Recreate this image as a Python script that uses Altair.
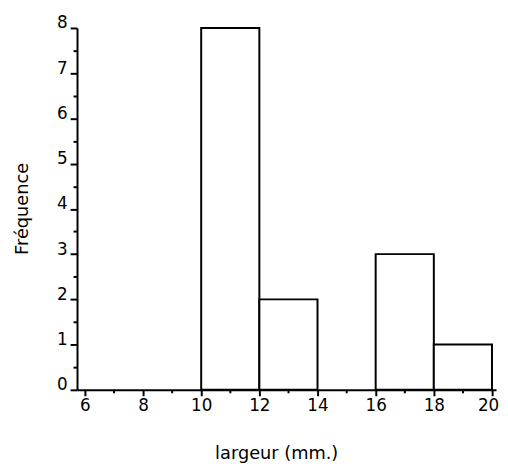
import altair as alt
import pandas as pd

bin_start = [10, 12, 14, 16, 18]
bin_end = [12, 14, 16, 18, 20]
freq = [8, 2, 0, 3, 1]

x_ticks = [6, 7, 8, 9, 10, 11, 12, 13, 14, 15, 16, 17, 18, 19, 20]
y_ticks = [0, 0.5, 1, 1.5, 2, 2.5, 3, 3.5, 4, 4.5, 5, 5.5, 6, 6.5, 7, 7.5, 8]

df = pd.DataFrame({"start": bin_start, "end": bin_end, "freq": freq})
df = df[df["freq"] > 0]

FONT = "DejaVu Sans"

x_axis = alt.Axis(
    values=x_ticks,
    labelExpr="datum.value % 2 === 0 ? format(datum.value, 'd') : ''",
    labelOverlap=False,
    labelOffset={"condition": {"test": "datum.value === 20", "value": -4}, "value": 0},
    tickSize={"condition": {"test": "datum.value % 2 === 0", "value": 6}, "value": 3},
    tickWidth=2,
    tickColor="black",
    domainColor="black",
    domainWidth=2,
    grid=False,
    labelFont=FONT,
    labelFontSize=17,
    labelColor="black",
    labelPadding=2,
    title="largeur (mm.)",
    titleFont=FONT,
    titleFontSize=18,
    titleFontWeight="normal",
    titleColor="black",
    titleX=202,
    titleY=65,
    titleBaseline="middle",
    titleAnchor="middle",
)

y_axis = alt.Axis(
    values=y_ticks,
    labelExpr="datum.value % 1 === 0 ? format(datum.value, 'd') : ''",
    labelOverlap=False,
    tickSize={"condition": {"test": "datum.value % 1 === 0", "value": 7}, "value": 4},
    tickWidth=2,
    tickColor="black",
    domainColor="black",
    domainWidth=2,
    grid=False,
    labelFont=FONT,
    labelFontSize=17,
    labelColor="black",
    labelPadding=3,
    labelOffset=-5,
    title="Fréquence",
    titleFont=FONT,
    titleFontSize=18,
    titleFontWeight="normal",
    titleColor="black",
    titleX=-55,
    titleY=183,
    titleBaseline="middle",
    titleAnchor="middle",
    titleAngle=270,
)

chart = (
    alt.Chart(df)
    .mark_rect(fill="white", stroke="black", strokeWidth=2)
    .encode(
        x=alt.X("start:Q", scale=alt.Scale(domain=[5.73, 20.14], nice=False, zero=False), axis=x_axis),
        x2="end:Q",
        y=alt.Y("freq:Q", scale=alt.Scale(domain=[0, 8], nice=False), axis=y_axis),
        y2=alt.datum(0),
    )
    .properties(
        width=425,
        height=367,
        autosize=alt.AutoSizeParams(type="none"),
        padding={"left": 70, "top": 17, "right": 4, "bottom": 74},
        background="white",
    )
    .configure_view(stroke=None)
)

chart.save("out.html", embed_options={"renderer": "svg", "actions": False})
